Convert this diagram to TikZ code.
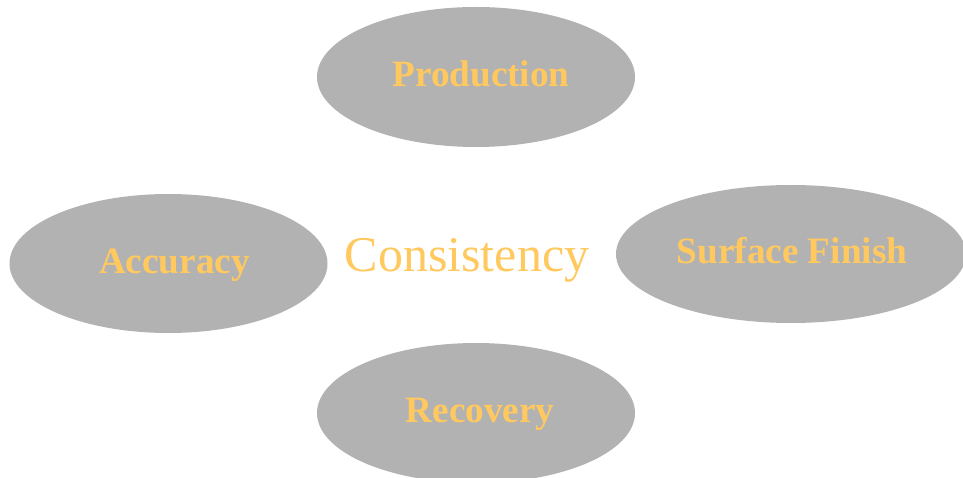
\documentclass[tikz,border=0pt]{standalone}
\usepackage{fontspec}
\setmainfont{Liberation Serif}
\usetikzlibrary{shapes.geometric}
\definecolor{blobgray}{HTML}{B2B2B2}
\definecolor{goldtext}{HTML}{FFC95F}
\tikzset{
  blob/.style={ellipse, fill=blobgray, draw=none, inner sep=0pt},
  bloblabel/.style={anchor=base, text=goldtext, inner sep=0pt, font=\fontsize{37.2}{40}\selectfont\bfseries},
  centerlabel/.style={anchor=base, text=goldtext, inner sep=0pt, font=\fontsize{50}{55}\selectfont}
}
\begin{document}
\begin{tikzpicture}[x=1pt,y=-1pt]
\useasboundingbox (0,0) rectangle (963,478);
\node[blob, minimum width=318pt, minimum height=140pt] (prod) at (476,77) {};
\node[blob, minimum width=318pt, minimum height=139pt] (acc) at (168.5,263.5) {};
\node[blob, minimum width=350pt, minimum height=138pt] (surf) at (791,254) {};
\node[blob, minimum width=318pt, minimum height=140pt] (rec) at (476,413) {};
\node[bloblabel] (prodt) at (481,87) {Production};
\node[bloblabel] (acct) at (174.5,273) {Accuracy};
\node[bloblabel] (surft) at (792,264) {Surface Finish};
\node[bloblabel] (rect) at (480,422) {Recovery};
\node[centerlabel] (cons) at (467,272) {Consistency};
\end{tikzpicture}
\end{document}
